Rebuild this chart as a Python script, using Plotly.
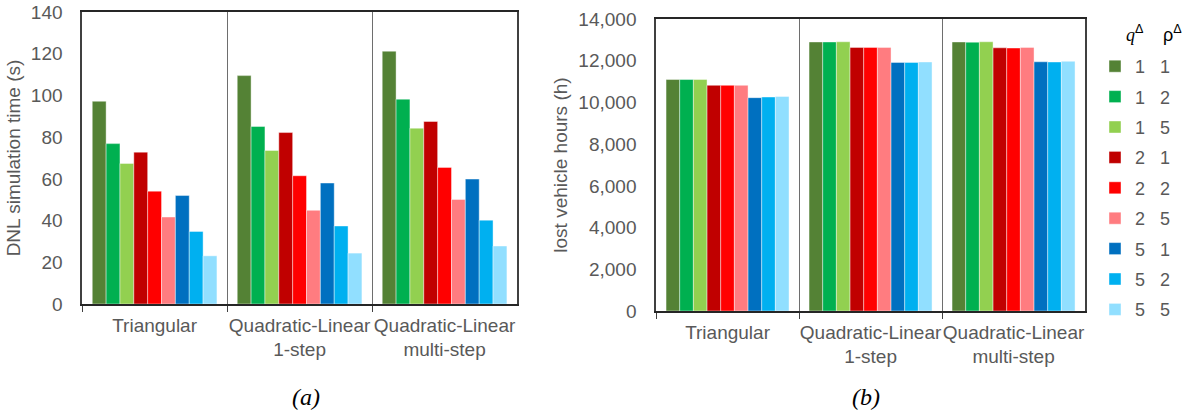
import plotly.graph_objects as go
from plotly.subplots import make_subplots

# Model variants on the category axis
categories = ["Triangular", "Quadratic-Linear<br>1-step", "Quadratic-Linear<br>multi-step"]

# Discretisation settings (q-delta, rho-delta) for each series
q_delta = [1, 1, 1, 2, 2, 2, 5, 5, 5]
rho_delta = [1, 2, 5, 1, 2, 5, 1, 2, 5]
colors = ["#548235", "#00B050", "#92D050", "#C00000", "#FF0000",
          "#FF7C80", "#0070C0", "#00B0F0", "#91DFFF"]

# DNL simulation time (s), one list per series, values per category
sim_time = [
    [97.2, 109.5, 121.2],
    [76.9, 85.1, 98.2],
    [67.4, 73.6, 84.3],
    [72.8, 82.2, 87.5],
    [54.1, 61.5, 65.5],
    [41.7, 44.9, 50.1],
    [52.0, 58.0, 59.9],
    [34.8, 37.4, 40.2],
    [23.1, 24.4, 27.8],
]

# Lost vehicle hours (h), one list per series, values per category
lost_hours = [
    [11100, 12900, 12900],
    [11100, 12900, 12890],
    [11100, 12910, 12910],
    [10820, 12640, 12620],
    [10820, 12640, 12610],
    [10820, 12640, 12640],
    [10230, 11920, 11950],
    [10260, 11920, 11940],
    [10290, 11940, 11970],
]

FONT = "Liberation Sans, Arial, sans-serif"
SERIF = "Liberation Serif, Times New Roman, serif"
GREY_TEXT = "#595959"
NB = "\u00a0"

fig = make_subplots(rows=1, cols=2)

for i in range(len(q_delta)):
    fig.add_trace(go.Bar(
        x=categories, y=sim_time[i], marker_color=colors[i],
        marker_line=dict(width=0.6, color="rgba(255,255,255,0.7)"),
        name=f"{q_delta[i]}{NB * 3}{rho_delta[i]}",
        legendgroup=f"g{i}", showlegend=True,
    ), row=1, col=1)
    fig.add_trace(go.Bar(
        x=categories, y=lost_hours[i], marker_color=colors[i],
        marker_line=dict(width=0.6, color="rgba(255,255,255,0.7)"),
        name=f"{q_delta[i]}{NB * 3}{rho_delta[i]}",
        legendgroup=f"g{i}", showlegend=False,
    ), row=1, col=2)

common_x = dict(
    tickson="boundaries", ticks="outside", ticklen=6, tickcolor="#404040",
    showgrid=True, gridcolor="#6E6E6E", gridwidth=1,
    showline=True, linecolor="#262626", linewidth=1.5, mirror=True,
    tickfont=dict(family=FONT, size=19, color=GREY_TEXT),
    tickangle=0, automargin=False,
    ticklabelstandoff=3,
)
common_y = dict(
    showgrid=False, zeroline=False, ticks="", automargin=False,
    showline=True, linecolor="#404040", linewidth=1.5, mirror=True,
    tickfont=dict(family=FONT, size=19, color=GREY_TEXT),
    ticklabelstandoff=14,
    title_font=dict(family=FONT, size=19, color=GREY_TEXT),
)

fig.update_layout(
    width=1190, height=414,
    margin=dict(l=0, r=0, t=0, b=0),
    paper_bgcolor="white", plot_bgcolor="white",
    barmode="group", bargap=0.14, bargroupgap=0,
    font=dict(family=FONT, color=GREY_TEXT),
    xaxis=dict(domain=[0.069, 0.4345], **common_x),
    xaxis2=dict(domain=[0.5513, 0.9118], **common_x),
    yaxis=dict(domain=[0.2657, 0.971], range=[0, 140], dtick=20,
               title=dict(text="DNL simulation time (s)", standoff=5), **common_y),
    yaxis2=dict(domain=[0.2488, 0.954], range=[0, 14000], dtick=2000,
                tickformat=",", title=dict(text="lost vehicle hours (h)", standoff=6),
                **common_y),
    legend=dict(
        x=1095 / 1190, xanchor="left", y=1 - 48 / 414, yanchor="top",
        font=dict(family=FONT, size=18, color=GREY_TEXT),
        traceorder="grouped", tracegroupgap=4,
        bgcolor="rgba(0,0,0,0)",
    ),
    annotations=[
        # column headers above the legend entries
        dict(text=f"<span style='font-family:{SERIF}'><i>q</i></span><sup>Δ</sup>",
             x=1124 / 1190, y=1 - 33 / 414, xref="paper", yref="paper",
             xanchor="left", yanchor="middle", showarrow=False,
             font=dict(family=FONT, size=18, color="#000000")),
        dict(text="ρ<sup>Δ</sup>",
             x=1161 / 1190, y=1 - 33 / 414, xref="paper", yref="paper",
             xanchor="left", yanchor="middle", showarrow=False,
             font=dict(family=FONT, size=18, color="#000000")),
        dict(text="<i>(a)</i>", x=290 / 1190, y=1 - 397 / 414, xref="paper", yref="paper",
             yanchor="middle", showarrow=False,
             font=dict(family=SERIF, size=24, color="#000000")),
        dict(text="<i>(b)</i>", x=882 / 1190, y=1 - 397 / 414, xref="paper", yref="paper",
             yanchor="middle", showarrow=False,
             font=dict(family=SERIF, size=24, color="#000000")),
    ],
)

fig.write_html("out.html")
